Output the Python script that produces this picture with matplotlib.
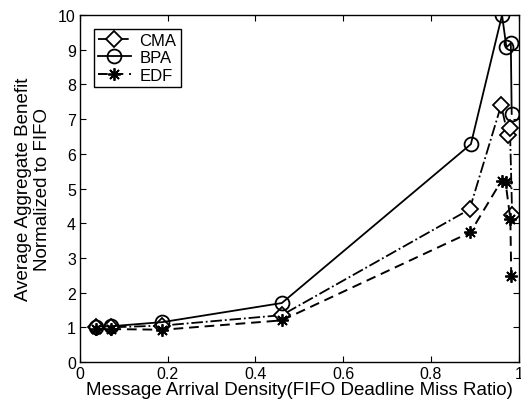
import matplotlib
matplotlib.use('Agg')
import matplotlib.pyplot as plt

plt.rcParams['font.family'] = ['Liberation Sans', 'DejaVu Sans']

# data
cma_x = [0.036, 0.07, 0.188, 0.46, 0.888, 0.960, 0.975, 0.980, 0.985]
cma_y = [1.00, 1.00, 1.05, 1.35, 4.40, 7.40, 6.55, 6.75, 4.25]

bpa_x = [0.036, 0.07, 0.188, 0.46, 0.891, 0.962, 0.972, 0.982, 0.984]
bpa_y = [1.02, 1.03, 1.15, 1.70, 6.28, 10.0, 9.07, 9.19, 7.15]

edf_x = [0.036, 0.07, 0.188, 0.46, 0.890, 0.961, 0.970, 0.981, 0.983]
edf_y = [0.95, 0.95, 0.93, 1.20, 3.74, 5.23, 5.18, 4.12, 2.47]

fig = plt.figure(figsize=(5.21, 4.02), dpi=100)
ax = fig.add_axes([0.1536, 0.097, 0.842, 0.863])

ax.plot(cma_x, cma_y, color='k', linestyle='-.', linewidth=1.3, marker='D',
        markersize=8, markerfacecolor='white', markeredgewidth=1.3, label='CMA')
ax.plot(bpa_x, bpa_y, color='k', linestyle='-', linewidth=1.3, marker='o',
        markersize=10, markerfacecolor='none', markeredgewidth=1.3, label='BPA')
ax.plot(edf_x, edf_y, color='k', linestyle=(0, (5, 3)), linewidth=1.4, marker=(8, 2, 0),
        markersize=9, markeredgewidth=1.3, label='EDF')

ax.set_xlim(0, 1)
ax.set_ylim(0, 10)
ax.set_xticks([0, 0.2, 0.4, 0.6, 0.8, 1])
ax.set_xticklabels(['0', '0.2', '0.4', '0.6', '0.8', '1'])
ax.set_yticks(range(0, 11))
ax.tick_params(direction='in', top=True, right=True, labelsize=11.5, length=4, pad=3)
for s in ax.spines.values():
    s.set_linewidth(1.0)

ax.set_xlabel('Message Arrival Density(FIFO Deadline Miss Ratio)', fontsize=13.5, labelpad=0)
ax.set_ylabel('Average Aggregate Benefit\nNormalized to FIFO', fontsize=13.5, labelpad=5,
              linespacing=1.15)

leg = ax.legend(loc='upper left', fontsize=12, fancybox=False, framealpha=1,
                edgecolor='k', handlelength=2.0, handletextpad=0.5, borderpad=0.25,
                labelspacing=0.15, bbox_to_anchor=(0.012, 0.985))
leg.get_frame().set_linewidth(1.0)

fig.savefig('out.png', dpi=100)
